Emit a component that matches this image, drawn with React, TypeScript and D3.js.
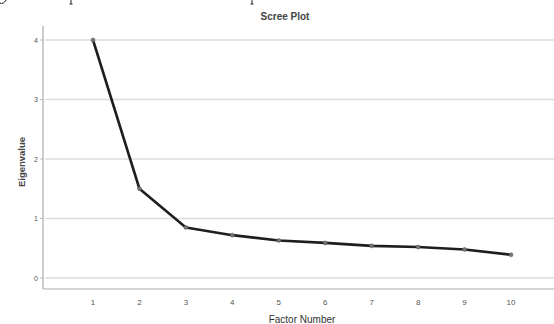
import React from "react";
import * as d3 from "d3";

const factors = [1, 2, 3, 4, 5, 6, 7, 8, 9, 10];
const eigenvalues = [4.0, 1.5, 0.85, 0.72, 0.63, 0.59, 0.54, 0.52, 0.48, 0.39];
const yTicks = [0, 1, 2, 3, 4];
const title = "Scree Plot";
const xTitle = "Factor Number";
const yTitle = "Eigenvalue";

export default function App() {
  const W = 554, H = 324;
  const x = d3.scaleLinear().domain([1, 10]).range([93, 511]);
  const y = d3.scaleLinear().domain([0, 4]).range([278, 40]);
  const axisX = 43, axisY = 289;
  const line = d3.line<number>().x((_, i) => x(factors[i])).y((d) => y(d));
  const font = "Arial, 'Liberation Sans', sans-serif";
  return (
    <svg width={W} height={H} style={{ position: "fixed", left: 0, top: 0, background: "#fff" }} fontFamily={font}>
      <rect width={W} height={H} fill="#fff" />
      {/* descender remnants of cropped document text above the chart */}
      <path d="M0,3 Q3,5 6,0" fill="none" stroke="#222" strokeWidth={1} />
      <path d="M71,0 V4 M69.5,4 H72.5" fill="none" stroke="#222" strokeWidth={1} />
      <path d="M252,0 V4 M250.5,4 H253.5" fill="none" stroke="#222" strokeWidth={1} />
      <text x={285} y={20} textAnchor="middle" fontSize={10} fontWeight="bold" fill="#444">{title}</text>
      {yTicks.map((t) => (
        <g key={t}>
          <line x1={axisX + 2} x2={W} y1={y(t)} y2={y(t)} stroke="#dcdcdc" strokeWidth={1.5} />
          <line x1={axisX - 3} x2={axisX} y1={y(t)} y2={y(t)} stroke="#bbb" strokeWidth={1} />
          <text x={axisX - 5} y={y(t) + 2.5} textAnchor="end" fontSize={7} fill="#555">{t}</text>
        </g>
      ))}
      <line x1={axisX} x2={axisX} y1={26} y2={axisY} stroke="#aaa" strokeWidth={1.2} />
      <line x1={axisX} x2={W} y1={axisY} y2={axisY} stroke="#aaa" strokeWidth={1.2} />
      {factors.map((f) => (
        <text key={f} x={x(f)} y={305} textAnchor="middle" fontSize={8} fill="#555">{f}</text>
      ))}
      <text x={302} y={323} textAnchor="middle" fontSize={10} fill="#333">{xTitle}</text>
      <text transform={`translate(25,162) rotate(-90)`} textAnchor="middle" fontSize={9.5} fontWeight="bold" fill="#444">{yTitle}</text>
      <path d={line(eigenvalues) || ""} fill="none" stroke="#1e1e1e" strokeWidth={2.6} strokeLinejoin="round" />
      {eigenvalues.map((v, i) => (
        <circle key={i} cx={x(factors[i])} cy={y(v)} r={2} fill="#777" stroke="#555" strokeWidth={0.5} />
      ))}
    </svg>
  );
}
